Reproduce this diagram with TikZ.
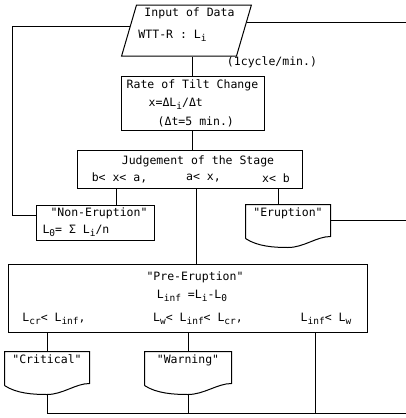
\documentclass[tikz,border=0pt]{standalone}
\usepackage{fontspec}
\setmonofont{DejaVu Sans Mono}
\usetikzlibrary{shapes.geometric, calc}

\tikzset{
    box/.style={draw, rectangle, inner sep=0pt},
    doc/.style={align=center, inner xsep=2pt, inner ysep=3pt, text height=8pt, text depth=19pt, minimum height=33pt},
    txt/.style={inner sep=0pt}
}

% lowered index, nearly as large as the letter it follows
\newcommand{\lsub}[1]{\raisebox{-3pt}{\fontsize{9.5}{9.5}\selectfont #1}}

% outline of a document shape round a node, with its foot at the wave
\newcommand{\docoutline}[1]{%
    \draw (#1.south west) -- (#1.north west) -- (#1.north east) -- ([yshift=2pt]#1.south east)
        .. controls +(-14,0) and +(16,0) .. ($(#1.south)+(0,9)$)
        .. controls +(-14,0) and +(12,8) .. (#1.south west);
    \coordinate (#1-foot) at ($(#1.south)+(0,9)$);}

\begin{document}
\begin{tikzpicture}[x=1pt, y=-1pt, line width=1pt, font=\ttfamily\fontsize{11.5}{17}\selectfont]
    \useasboundingbox (0,0) rectangle (406,418);

    % Input
    \node[trapezium, trapezium left angle=73, trapezium right angle=107, trapezium stretches=true,
          draw, minimum width=127pt, minimum height=51pt, inner sep=2pt, align=left,
          font=\ttfamily\fontsize{11.5}{22}\selectfont] (in) at (186.5,30.5)
        {\hspace*{6pt}Input of Data\\WTT-R : L\lsub{i}\\[-8pt]};
    \node[txt] (cyc) at (272,62) {(1cycle/min.)};

    % Rate of tilt change
    \node[box, minimum width=143pt, minimum height=54pt, align=left,
          font=\ttfamily\fontsize{11.5}{18.5}\selectfont] (rate) at (192.5,103)
        {Rate of Tilt Change\\\hspace*{22pt}x=ΔL\lsub{i}/Δt\\\hspace*{31pt}(Δt=5 min.)};

    % Judgement
    \node[box, minimum width=225pt, minimum height=38pt] (judge) at (189.5,169) {};
    \node[txt] (jt) at (198,161) {Judgement of the Stage};
    \node[txt] (jc1) at (119.5,178) {b< x< a,};
    \node[txt] (jc2) at (203.5,178) {a< x,};
    \node[txt] (jc3) at (276,178) {x< b};

    % Non-eruption and eruption
    \node[box, minimum width=118pt, minimum height=35pt, align=left] (non) at (95,222.5)
        {\hspace*{8pt}"Non-Eruption"\\L\lsub{0}= Σ L\lsub{i}/n};
    \node[doc, minimum width=84pt] (eru) at (288,221.5) {"Eruption"};
    \docoutline{eru}

    % Pre-eruption
    \node[box, minimum width=359pt, minimum height=68pt] (pre) at (187.5,298) {};
    \node[txt] (pt1) at (195,277) {"Pre-Eruption"};
    \node[txt] (pt2) at (192,296) {L\lsub{inf} =L\lsub{i}-L\lsub{0}};
    \node[txt] (pc1) at (54,319) {L\lsub{cr}< L\lsub{inf},};
    \node[txt] (pc2) at (198,319) {L\lsub{w}< L\lsub{inf}< L\lsub{cr},};
    \node[txt] (pc3) at (326,319) {L\lsub{inf}< L\lsub{w}};

    % Critical and warning
    \node[doc, minimum width=84pt] (crit) at (47,368.5) {"Critical"};
    \docoutline{crit}
    \node[doc, minimum width=86pt] (warn) at (188,368.5) {"Warning"};
    \docoutline{warn}

    % Loose ends of the lines
    \coordinate (back) at (12,26);
    \coordinate (rtop) at (406,23);
    \coordinate (rmid) at (406,220);
    \coordinate (rbot) at (406,413);
    \coordinate (inl) at ($(in.bottom left corner)!0.588!(in.top left corner)$);
    \coordinate (inr) at ($(in.bottom right corner)!0.647!(in.top right corner)$);

    % Connectors
    \draw (rate.north |- in.south) -- (rate.north);
    \draw (rate.south) -- (rate.south |- judge.north);
    \draw (116,0 |- judge.south) -- (116,0 |- non.north);
    \draw (196,0 |- judge.south) -- (196,0 |- pre.north);
    \draw (278,0 |- judge.south) -- (278,0 |- eru.north);
    \draw (non.west |- 0,215) -| (back) -- (back -| inl);
    \draw (inr) -- (inr -| rtop);
    \draw (eru.east |- rmid) -- (rmid);
    \draw (crit.north |- pre.south) -- (crit.north);
    \draw (warn.north |- pre.south) -- (warn.north);
    \draw (315,0 |- pre.south) -- (315,0 |- rbot);
    \draw (crit-foot) |- (rbot);
    \draw (warn-foot) -- (warn-foot |- rbot);
\end{tikzpicture}
\end{document}
